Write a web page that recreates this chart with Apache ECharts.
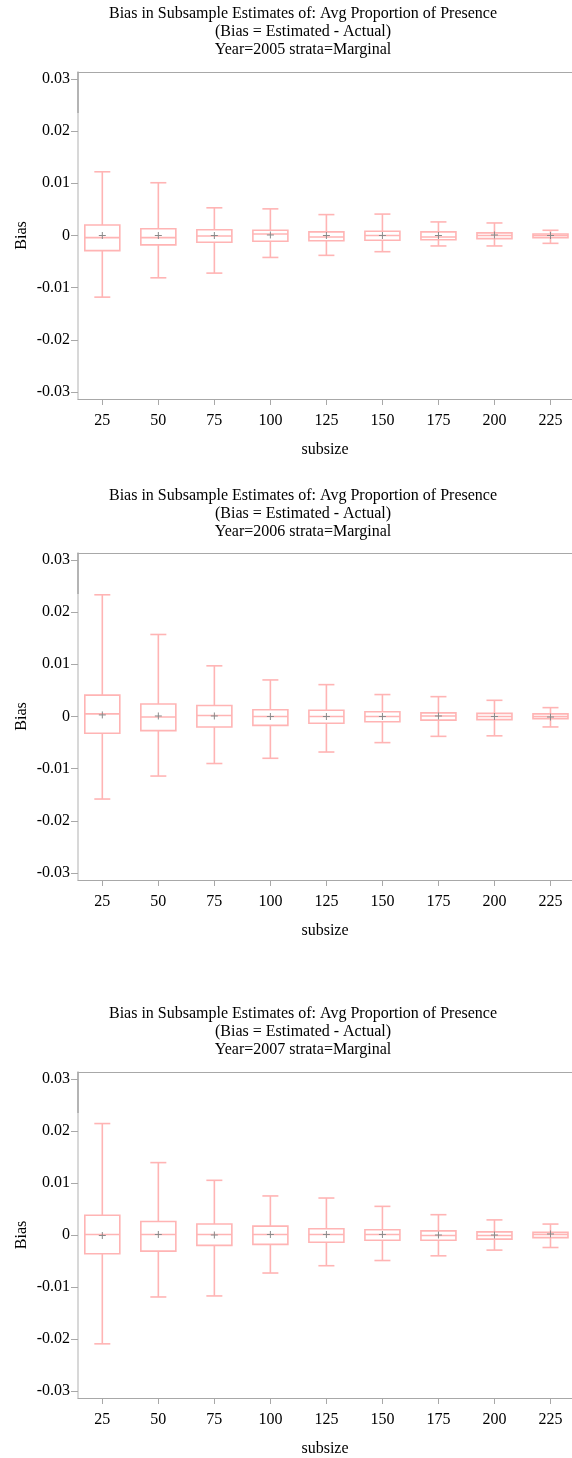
<!DOCTYPE html>
<html><head><meta charset="utf-8">
<script src="https://cdn.jsdelivr.net/npm/echarts@6/dist/echarts.min.js"></script>
<style>html,body{margin:0;padding:0;background:#fff}#c{width:572px;height:1458px}</style>
</head><body><div id="c"></div>
<script>
// ---- data ----
const subsizes = [25, 50, 75, 100, 125, 150, 175, 200, 225];
const yTickValues = [-0.03, -0.02, -0.01, 0, 0.01, 0.02, 0.03];
const years = [2005, 2006, 2007];
const strata = 'Marginal';

const min2005  = [-0.0118, -0.0081, -0.0072, -0.0042, -0.0038, -0.0031, -0.0020, -0.0020, -0.0015];
const q1_2005  = [-0.0029, -0.0018, -0.0013, -0.0011, -0.0010, -0.0009, -0.0008, -0.0006, -0.0004];
const med2005  = [-0.0004, -0.0004, -0.0001,  0.0003, -0.0003,  0.0000, -0.0003,  0.0000,  0.0000];
const q3_2005  = [ 0.0020,  0.0013,  0.0011,  0.0010,  0.0007,  0.0008,  0.0007,  0.0005,  0.0003];
const max2005  = [ 0.0122,  0.0101,  0.0053,  0.0051,  0.0040,  0.0041,  0.0026,  0.0024,  0.0010];
const mean2005 = [ 0.0000,  0.0000,  0.0000,  0.0001,  0.0000,  0.0000,  0.0000,  0.0001,  0.0000];

const min2006  = [-0.0158, -0.0114, -0.0090, -0.0080, -0.0068, -0.0050, -0.0038, -0.0037, -0.0020];
const q1_2006  = [-0.0032, -0.0027, -0.0020, -0.0017, -0.0013, -0.0010, -0.0007, -0.0006, -0.0004];
const med2006  = [ 0.0005, -0.0001,  0.0002,  0.0000,  0.0000,  0.0000,  0.0001,  0.0000,  0.0000];
const q3_2006  = [ 0.0041,  0.0024,  0.0021,  0.0013,  0.0012,  0.0009,  0.0007,  0.0006,  0.0005];
const max2006  = [ 0.0233,  0.0157,  0.0097,  0.0070,  0.0061,  0.0042,  0.0038,  0.0031,  0.0017];
const mean2006 = [ 0.0003,  0.0001,  0.0001,  0.0000,  0.0000,  0.0000,  0.0001,  0.0000, -0.0001];

const min2007  = [-0.0209, -0.0119, -0.0117, -0.0073, -0.0059, -0.0049, -0.0040, -0.0029, -0.0024];
const q1_2007  = [-0.0036, -0.0031, -0.0020, -0.0018, -0.0014, -0.0010, -0.0010, -0.0008, -0.0005];
const med2007  = [ 0.0001,  0.0001,  0.0001,  0.0001,  0.0001,  0.0001, -0.0001, -0.0001,  0.0001];
const q3_2007  = [ 0.0038,  0.0026,  0.0021,  0.0017,  0.0012,  0.0010,  0.0008,  0.0006,  0.0005];
const max2007  = [ 0.0214,  0.0139,  0.0105,  0.0075,  0.0071,  0.0055,  0.0039,  0.0029,  0.0021];
const mean2007 = [-0.0001,  0.0001,  0.0000,  0.0001,  0.0001,  0.0001,  0.0000,  0.0000,  0.0002];

const panels = [
  [min2005, q1_2005, med2005, q3_2005, max2005, mean2005],
  [min2006, q1_2006, med2006, q3_2006, max2006, mean2006],
  [min2007, q1_2007, med2007, q3_2007, max2007, mean2007]
];

// ---- styles / layout ----
const FONT = "'Liberation Serif', 'Times New Roman', serif";
const AXIS_COLOR = '#a8a8a8';
const BOX_COLOR = '#ffb4b4';
const MEAN_COLOR = '#8a8a8a';
const BOX_W = 35, CAP_W = 16, MEAN_W = 7;
const gridTops = [72, 553, 1072];
const GRID_H = 327, GRID_LEFT = 78;
const X_MIN = 14.15, X_MAX = 234.6, Y_MIN = -0.0313, Y_MAX = 0.0313;
const TITLE_X = 303;
const titleOffsets = [0, 482, 1000];

function renderBox(params, api) {
  const x = api.value(0);
  const pMin = api.coord([x, api.value(1)]);
  const pQ1 = api.coord([x, api.value(2)]);
  const pMed = api.coord([x, api.value(3)]);
  const pQ3 = api.coord([x, api.value(4)]);
  const pMax = api.coord([x, api.value(5)]);
  const pMean = api.coord([x, api.value(6)]);
  const cx = pMin[0];
  const st = {stroke: BOX_COLOR, lineWidth: 1.6, fill: null};
  const mst = {stroke: MEAN_COLOR, lineWidth: 1};
  return {
    type: 'group',
    children: [
      {type: 'line', shape: {x1: cx, y1: pMax[1], x2: cx, y2: pQ3[1]}, style: st},
      {type: 'line', shape: {x1: cx, y1: pQ1[1], x2: cx, y2: pMin[1]}, style: st},
      {type: 'line', shape: {x1: cx - CAP_W / 2, y1: pMax[1], x2: cx + CAP_W / 2, y2: pMax[1]}, style: st},
      {type: 'line', shape: {x1: cx - CAP_W / 2, y1: pMin[1], x2: cx + CAP_W / 2, y2: pMin[1]}, style: st},
      {type: 'rect', shape: {x: cx - BOX_W / 2, y: pQ3[1], width: BOX_W, height: pQ1[1] - pQ3[1]}, style: st},
      {type: 'line', shape: {x1: cx - BOX_W / 2, y1: pMed[1], x2: cx + BOX_W / 2, y2: pMed[1]}, style: st},
      {type: 'line', shape: {x1: cx - MEAN_W / 2, y1: pMean[1], x2: cx + MEAN_W / 2, y2: pMean[1]}, style: mst},
      {type: 'line', shape: {x1: cx, y1: pMean[1] - MEAN_W / 2, x2: cx, y2: pMean[1] + MEAN_W / 2}, style: mst}
    ]
  };
}

const grid = [], xAxis = [], yAxis = [], series = [], graphic = [];
panels.forEach((p, i) => {
  grid.push({left: GRID_LEFT, right: 0, top: gridTops[i], height: GRID_H, containLabel: false});
  xAxis.push({
    type: 'value', gridIndex: i, min: X_MIN, max: X_MAX, position: 'bottom',
    name: 'subsize', nameLocation: 'middle', nameGap: 43, nameMoveOverlap: false,
    nameTextStyle: {fontFamily: FONT, fontSize: 16, color: '#000'},
    axisLine: {show: true, onZero: false, lineStyle: {color: AXIS_COLOR, width: 1}},
    axisTick: {show: true, length: 6, customValues: subsizes, lineStyle: {color: AXIS_COLOR}},
    axisLabel: {customValues: subsizes, margin: 14, fontFamily: FONT, fontSize: 16, color: '#000',
      formatter: v => String(v)},
    splitLine: {show: false}
  });
  yAxis.push({
    type: 'value', gridIndex: i, min: Y_MIN, max: Y_MAX,
    name: 'Bias', nameLocation: 'middle', nameGap: 48, nameMoveOverlap: false,
    nameTextStyle: {fontFamily: FONT, fontSize: 16, color: '#000'},
    axisLine: {show: true, onZero: false, lineStyle: {color: '#d8d8d8', width: 2}},
    axisTick: {show: true, length: 7, customValues: yTickValues, lineStyle: {color: AXIS_COLOR}},
    axisLabel: {customValues: yTickValues, margin: 8, fontFamily: FONT, fontSize: 16, color: '#000',
      formatter: v => (Math.abs(v) < 1e-9 ? '0' : v.toFixed(2))},
    splitLine: {show: false}
  });
  series.push({
    type: 'custom', xAxisIndex: i, yAxisIndex: i,
    renderItem: renderBox,
    encode: {x: 0, y: [1, 2, 3, 4, 5, 6]},
    data: subsizes.map((s, k) => [s, p[0][k], p[1][k], p[2][k], p[3][k], p[4][k], p[5][k]])
  });
});
// top border axes
panels.forEach((p, i) => {
  xAxis.push({
    type: 'value', gridIndex: i, min: X_MIN, max: X_MAX, position: 'top',
    axisLine: {show: true, onZero: false, lineStyle: {color: AXIS_COLOR, width: 1}},
    axisTick: {show: false}, axisLabel: {show: false}, splitLine: {show: false}
  });
});
// titles
years.forEach((yr, i) => {
  const lines = [
    'Bias in Subsample Estimates of: Avg Proportion of Presence',
    '(Bias = Estimated - Actual)',
    'Year=' + yr + ' strata=' + strata
  ];
  const ys = [13.5, 31.5, 50];
  lines.forEach((t, j) => {
    graphic.push({type: 'text', x: TITLE_X, y: ys[j] + titleOffsets[i],
      style: {text: t, font: '16px ' + FONT, fill: '#000', align: 'center', verticalAlign: 'middle'}});
  });
  // darker upper section of left axis line
  graphic.push({type: 'line', shape: {x1: GRID_LEFT, y1: gridTops[i], x2: GRID_LEFT, y2: gridTops[i] + 41},
    style: {stroke: AXIS_COLOR, lineWidth: 1.5}, z: 10});
});

const chart = echarts.init(document.getElementById('c'), null, {renderer: 'canvas'});
chart.setOption({
  animation: false,
  backgroundColor: '#fff',
  grid, xAxis, yAxis, series, graphic
});
</script>
</body></html>
